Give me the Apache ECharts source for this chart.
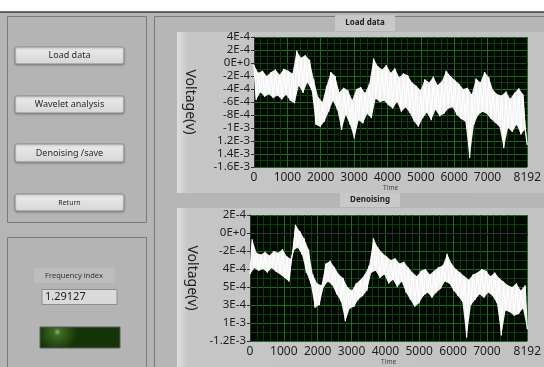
<!DOCTYPE html>
<html>
<head>
<meta charset="utf-8">
<script src="https://cdn.jsdelivr.net/npm/echarts@6/dist/echarts.min.js"></script>
<style>
  html, body { margin: 0; padding: 0; background: #b5b5b5; }
  #chart { width: 544px; height: 367px; }
</style>
</head>
<body>
<div id="chart"></div>
<script>
// samples between two stored points, both traces
const step = 64;
const xTicks = [0, 1000, 2000, 3000, 4000, 5000, 6000, 7000, 8192];
// tick labels exactly as printed on the two graphs (top to bottom)
const loadLabels = ["4E-4", "2E-4", "0E+0", "-2E-4", "-4E-4", "-6E-4", "-8E-4", "-1E-3", "1.2E-3", "1.4E-3", "-1.6E-3"];
const denoiseLabels = ["2E-4", "0E+0", "-2E-4", "4E-4", "5E-4", "3E-4", "1E-3", "-1.2E-3"];

// voltage in units of 1E-4 V (alternating upper / lower edge of the noise)
const loadData = [
  -0.3, -5.7, -1.5, -4.5, -1.2, -5.2, -2.0, -4.8,
  -1.4, -5.4, -1.0, -5.0, -1.8, -5.6, -0.9, -4.9,
  -1.2, -5.8, -1.6, -6.2,
  1.9, -3.5, 0.8, -4.6,
  1.2, -3.0, 0.5, -4.2,
  -2.5, -9.5, -5.2, -9.8,
  -6.0, -9.0, -3.5, -7.5,
  -1.4, -5.8, -2.0, -7.2,
  -4.5, -10.3, -3.8, -8.0,
  -4.2, -9.5, -5.7, -11.6,
  -4.0, -8.8, -3.7, -9.3,
  -4.6, -7.8, -3.2, -8.5,
  0.7, -5.5, -0.5, -6.0,
  -1.0, -5.8, -0.3, -6.5,
  -1.5, -7.0, -0.8, -6.0,
  -2.2, -7.5, -1.6, -6.8,
  -1.9, -7.7, -3.0, -9.0,
  -3.5, -9.8, -4.2, -8.5,
  -2.5, -7.6, -3.0, -8.8,
  -2.1, -7.2, -3.4, -8.2,
  -2.8, -7.8, -1.2, -7.0,
  -2.0, -6.8, -2.6, -8.0,
  -3.2, -8.6, -4.0, -9.0,
  -3.8, -14.6, -4.8, -9.5,
  -2.4, -8.0, -3.0, -7.5,
  -1.4, -7.8, -2.2, -8.6,
  -4.2, -9.2, -4.8, -9.8,
  -5.0, -13.1, -4.4, -10.0,
  -5.5, -10.6, -4.6, -9.5,
  -3.9, -11.0, -4.8, -10.2,
  -12.6
];

const denoiseData = [
  -4.6, -0.7, -3.9, -2.2,
  -4.2, -2.4, -4.0, -2.1,
  -4.4, -2.5, -3.9, -2.0,
  -4.3, -2.2, -4.6, -1.8,
  -5.0, -2.6, -5.4, -2.9,
  -2.0, 0.9, -1.6, 0.2,
  -2.4, -0.6, -4.4, -1.8,
  -5.6, -4.6, -8.3, -5.6,
  -8.0, -5.8, -6.0, -3.4,
  -5.4, -3.1, -5.8, -3.8,
  -6.8, -4.6, -7.6, -5.0,
  -9.8, -6.0, -8.4, -6.4,
  -8.2, -5.6, -7.4, -5.2,
  -7.0, -4.6, -6.4, -3.6,
  -4.4, -0.6, -4.2, -1.6,
  -5.0, -2.2, -4.6, -2.6,
  -5.6, -3.0, -5.2, -2.8,
  -6.0, -3.4, -5.4, -3.2,
  -6.6, -3.8, -7.4, -4.4,
  -8.2, -4.8, -7.8, -4.2,
  -7.0, -4.0, -6.6, -4.6,
  -7.2, -4.2, -6.6, -3.8,
  -6.2, -3.6, -5.4, -2.3,
  -5.6, -3.4, -6.4, -4.0,
  -7.0, -4.4, -7.6, -4.8,
  -11.6, -5.2, -8.0, -4.6,
  -7.4, -4.4, -6.8, -4.0,
  -7.2, -4.2, -6.6, -4.8,
  -7.0, -4.4, -7.8, -5.0,
  -11.4, -5.4, -8.6, -5.8,
  -8.8, -6.0, -9.2, -5.6,
  -9.0, -6.4, -8.4, -5.8,
  -10.7
];

const font = "'Noto Sans', 'Open Sans', sans-serif";
const chart = echarts.init(document.getElementById("chart"), null, { renderer: "canvas" });

function button(x, y, w, h, label, size) {
  return [
    { type: "rect", shape: { x, y, width: w, height: h, r: 2 },
      style: { fill: new echarts.graphic.LinearGradient(0, 0, 0, 1, [
        { offset: 0, color: "#ececec" }, { offset: 1, color: "#d6d6d6" }]),
        stroke: "#8c8c8c", lineWidth: 1, shadowBlur: 2, shadowColor: "rgba(0,0,0,.25)", shadowOffsetY: 1 } },
    { type: "text", x: x + w / 2, y: y + h / 2,
      style: { text: label, fill: "#2a2a2a", font: `${size}px ${font}`, align: "center", verticalAlign: "middle" } },
  ];
}

function frame(x, y, w, h, tabX, tabY, tabW, tabH, title) {
  return [
    { type: "rect", shape: { x, y, width: w, height: h },
      style: { fill: new echarts.graphic.LinearGradient(0, 0, 1, 0, [
        { offset: 0, color: "#dedede" }, { offset: 0.03, color: "#c6c6c6" }, { offset: 1, color: "#c2c2c2" }]) } },
    { type: "rect", shape: { x: tabX, y: tabY, width: tabW, height: tabH },
      style: { fill: "#c8c8c8" } },
    { type: "text", x: tabX + tabW / 2, y: tabY + tabH / 2,
      style: { text: title, fill: "#222", font: `bold 8px ${font}`, align: "center", verticalAlign: "middle" } },
  ];
}

const chrome = [
  { type: "rect", shape: { x: 0, y: 0, width: 544, height: 12 }, style: { fill: "#ffffff" } },
  { type: "line", shape: { x1: 0, y1: 12, x2: 544, y2: 12 }, style: { stroke: "#3c3c3c", lineWidth: 1.5 } },
  // left panels and right panel outlines
  { type: "rect", shape: { x: 7.5, y: 16.5, width: 139, height: 206 }, style: { fill: "#b4b4b4", stroke: "#7a7a7a", lineWidth: 1 } },
  { type: "rect", shape: { x: 7.5, y: 237.5, width: 139, height: 140 }, style: { fill: "#b4b4b4", stroke: "#7a7a7a", lineWidth: 1 } },
  { type: "rect", shape: { x: 154.5, y: 16.5, width: 400, height: 360 }, style: { fill: "#b6b6b6", stroke: "#7a7a7a", lineWidth: 1 } },
  ...button(15, 47, 109, 17, "Load data", 9),
  ...button(15, 96, 109, 17, "Wavelet analysis", 9),
  ...button(15, 144, 109, 18, "Denoising /save", 9),
  ...button(15, 194, 109, 17, "Return", 7),
  { type: "rect", shape: { x: 34, y: 268, width: 81, height: 15 }, style: { fill: "#bdbdbd" } },
  { type: "text", x: 74, y: 275.5, style: { text: "Frequency index", fill: "#333", font: `7.5px ${font}`, align: "center", verticalAlign: "middle" } },
  { type: "rect", shape: { x: 42, y: 289.5, width: 75, height: 15 },
    style: { fill: "#dadada", stroke: "#8e8e8e", lineWidth: 1 } },
  { type: "text", x: 45, y: 297, style: { text: "1.29127", fill: "#222", font: `11px ${font}`, verticalAlign: "middle" } },
  { type: "rect", shape: { x: 40, y: 327, width: 80, height: 21 },
    style: { fill: new echarts.graphic.RadialGradient(0.22, 0.25, 0.9, [
      { offset: 0, color: "#8fb07a" }, { offset: 0.18, color: "#3f6a26" }, { offset: 1, color: "#143408" }]),
      stroke: "#5a5a5a", lineWidth: 1 } },
  ...frame(177, 32, 367, 161, 335, 15, 60, 16, "Load data"),
  ...frame(177, 208, 367, 170, 340, 193, 60, 14, "Denoising"),
];

const axisText = { color: "#1e1e1e", fontFamily: font, fontSize: 11.5 };
const greenMajor = { lineStyle: { color: "#1f6e1f", width: 1 } };
const greenMinor = { lineStyle: { color: "#0d3d0d", width: 1 } };

function xAxis(gridIndex) {
  return {
    type: "value", gridIndex, min: 0, max: 8192, interval: 1000,
    axisLine: { show: true, lineStyle: { color: "#333" } },
    axisTick: { show: true, length: 3, customValues: xTicks, lineStyle: { color: "#333" } },
    axisLabel: { ...axisText, fontSize: 12, margin: 5, customValues: xTicks, formatter: (v) => String(v) },
    splitLine: { show: true, ...greenMajor },
    minorTick: { show: false, splitNumber: 5 },
    minorSplitLine: { show: true, ...greenMinor },
    name: "Time", nameLocation: "middle", nameGap: 18,
    nameTextStyle: { color: "#444", fontSize: 6.5, fontFamily: font },
  };
}

function yAxis(gridIndex, min, max, labels, gap) {
  return {
    type: "value", gridIndex, min, max, interval: 2,
    axisLine: { show: true, lineStyle: { color: "#333" } },
    axisTick: { show: true, length: 3, lineStyle: { color: "#333" } },
    axisLabel: { ...axisText, margin: 4, formatter: (v) => labels[Math.round((max - v) / 2)] },
    splitLine: { show: true, ...greenMajor },
    minorTick: { show: false, splitNumber: 2 },
    minorSplitLine: { show: true, ...greenMinor },
    name: "Voltage(v)", nameLocation: "middle", nameGap: gap, nameRotate: -90,
    nameTextStyle: { color: "#1e1e1e", fontSize: 14, fontFamily: font },
  };
}

// the noisy trace: a zigzag through the read edges...
function trace(values, idx) {
  return {
    type: "line", xAxisIndex: idx, yAxisIndex: idx,
    showSymbol: false, silent: true, z: 10,
    lineStyle: { color: "#ffffff", width: 1.2 },
    data: values.map((v, i) => [i * step, v]),
  };
}

// ...plus the filled band between them (one edge = even points, other edge = odd points)
function band(values, idx) {
  return {
    type: "custom", xAxisIndex: idx, yAxisIndex: idx, silent: true, z: 9,
    data: [[0, values[0]]],
    renderItem: (params, api) => {
      const a = [], b = [];
      values.forEach((v, i) => (i % 2 ? b : a).push(api.coord([i * step, v])));
      return { type: "polygon", shape: { points: a.concat(b.reverse()) }, style: { fill: "#f0f0f0" } };
    },
  };
}

chart.setOption({
  animation: false,
  backgroundColor: "#b5b5b5",
  graphic: { elements: chrome.map((e) => ({ ...e, z: -10 })) },
  grid: [
    { left: 254, top: 37, width: 275, height: 130, show: true, backgroundColor: "#020802", borderWidth: 0 },
    { left: 250, top: 215, width: 279, height: 131, show: true, backgroundColor: "#020802", borderWidth: 0 },
  ],
  xAxis: [xAxis(0), xAxis(1)],
  yAxis: [yAxis(0, -16, 4, loadLabels, 57), yAxis(1, -12, 2, denoiseLabels, 48)],
  series: [band(loadData, 0), trace(loadData, 0), band(denoiseData, 1), trace(denoiseData, 1)],
});
</script>
</body>
</html>
